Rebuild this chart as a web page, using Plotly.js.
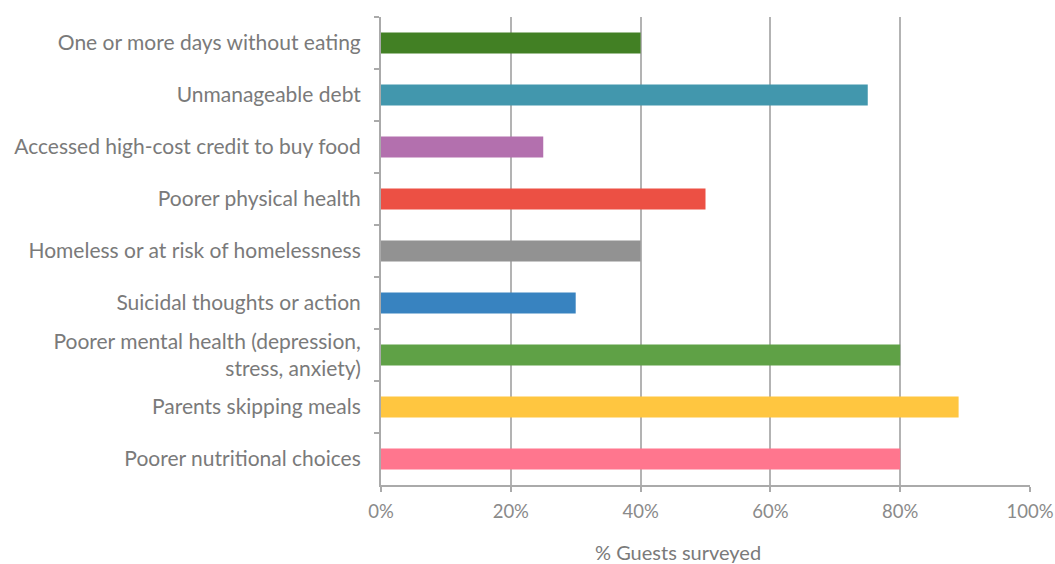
<!DOCTYPE html>
<html>
<head>
<meta charset="utf-8">
<script src="https://cdn.plot.ly/plotly-3.0.1.min.js"></script>
<style>html,body{margin:0;padding:0;background:#fff;}#chart{width:1055px;height:564px;}</style>
</head>
<body>
<div id="chart"></div>
<script>
const categories = [
  "One or more days without eating",
  "Unmanageable debt",
  "Accessed high-cost credit to buy food",
  "Poorer physical health",
  "Homeless or at risk of homelessness",
  "Suicidal thoughts or action",
  "Poorer mental health (depression,<br>stress, anxiety)",
  "Parents skipping meals",
  "Poorer nutritional choices"
];
const values = [0.40, 0.75, 0.25, 0.50, 0.40, 0.30, 0.80, 0.89, 0.80];
const barColors = ["#428024", "#4297ad", "#b370ae", "#ec5044", "#929292", "#3883c0", "#5fa146", "#ffc640", "#ff768e"];
const xTickVals = [0, 0.2, 0.4, 0.6, 0.8, 1.0];
const xTitle = "% Guests surveyed";

const trace = {
  type: "bar",
  orientation: "h",
  y: categories,
  x: values,
  marker: { color: barColors, line: { width: 0 } },
  hoverinfo: "skip"
};

const layout = {
  width: 1055,
  height: 564,
  margin: { l: 381, r: 25, t: 17, b: 79 },
  paper_bgcolor: "#fff",
  plot_bgcolor: "#fff",
  font: { family: "Lato, 'Open Sans', sans-serif", color: "#7a7a7a", size: 18 },
  bargap: 0.6,
  showlegend: false,
  xaxis: {
    range: [0, 1],
    tickvals: xTickVals,
    tickformat: ".0%",
    showgrid: true,
    gridcolor: "#b3b3b3",
    gridwidth: 2,
    zeroline: false,
    showline: true,
    linecolor: "#aaaaaa",
    linewidth: 2,
    ticks: "outside",
    ticklen: 5,
    tickwidth: 2,
    tickcolor: "#aaaaaa",
    ticklabelstandoff: 4,
    tickfont: { size: 18.5, color: "#8a8a8a" },
    fixedrange: true
  },
  yaxis: {
    autorange: "reversed",
    type: "category",
    showline: true,
    linecolor: "#aaaaaa",
    linewidth: 2,
    ticks: "outside",
    tickson: "boundaries",
    ticklen: 5,
    tickwidth: 2,
    tickcolor: "#aaaaaa",
    ticklabelstandoff: 14,
    tickfont: { size: 21, color: "#7a7a7a" },
    showgrid: false,
    fixedrange: true
  },
  annotations: [{
    text: xTitle,
    xref: "paper", yref: "paper",
    x: (678 - 381) / 649, y: -0.144,
    xanchor: "center", yanchor: "middle",
    showarrow: false,
    font: { size: 20, color: "#7a7a7a" }
  }]
};

Plotly.newPlot("chart", [trace], layout, { displayModeBar: false, staticPlot: true });
</script>
</body>
</html>
